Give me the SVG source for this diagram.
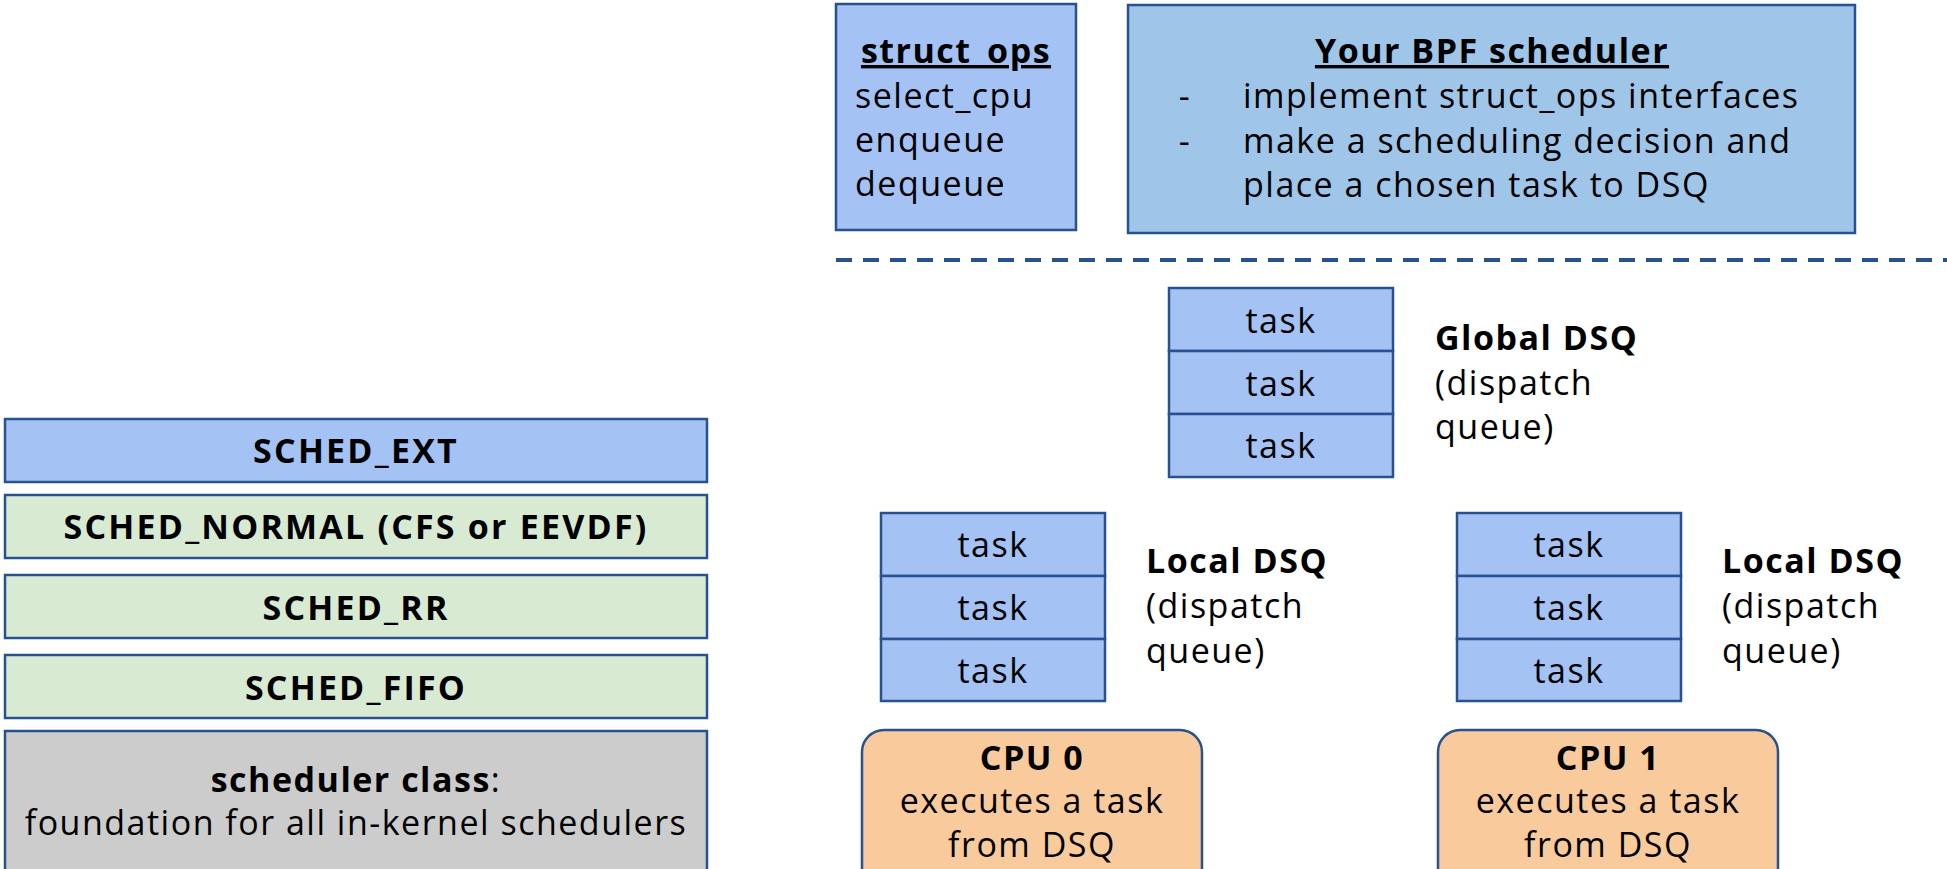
<svg xmlns="http://www.w3.org/2000/svg" width="1947" height="869" viewBox="0 0 1947 869">
  <style>
    .box { stroke: #27528f; stroke-width: 2.5; }
    .ext { fill: #a4c2f4; }
    .bpf { fill: #9fc5e8; }
    .cls { fill: #d9ead3; }
    .base { fill: #cccccc; }
    .cpu { fill: #f9cb9c; }
    text { font-family: "Open Sans", "Noto Sans", sans-serif; font-size: 34px; letter-spacing: 1.5px; fill: #000; }
    .b { font-weight: bold; }
    .cap { letter-spacing: 2.2px; }
    .c { text-anchor: middle; }
    .u { text-decoration: underline; }
  </style>

  <rect width="1947" height="869" fill="#ffffff"/>

  <!-- struct_ops callbacks -->
  <g id="struct-ops">
    <rect class="box ext" x="836" y="4" width="240" height="226"/>
    <text class="b c u" x="956" y="63">struct_ops</text>
    <text x="855" y="108">select_cpu</text>
    <text x="855" y="152">enqueue</text>
    <text x="855" y="196">dequeue</text>
  </g>

  <!-- user BPF scheduler -->
  <g id="bpf-scheduler">
    <rect class="box bpf" x="1128" y="5" width="727" height="228"/>
    <text class="b c u" x="1492" y="63">Your BPF scheduler</text>
    <text class="c" x="1185" y="108">-</text>
    <text class="c" x="1185" y="153">-</text>
    <text x="1243" y="108" letter-spacing="1.1">implement struct_ops interfaces</text>
    <text x="1243" y="153">make a scheduling decision and</text>
    <text x="1243" y="197">place a chosen task to DSQ</text>
  </g>

  <!-- user / kernel boundary -->
  <g id="connectors">
    <line x1="836" y1="260" x2="1947" y2="260" stroke="#27528f" stroke-width="4" stroke-dasharray="16 11"/>
  </g>

  <!-- scheduler class stack -->
  <g id="sched-ext">
    <rect class="box ext" x="5" y="419" width="702" height="63"/>
    <text class="b c cap" x="356" y="463">SCHED_EXT</text>
  </g>
  <g id="sched-normal">
    <rect class="box cls" x="5" y="495" width="702" height="63"/>
    <text class="b c cap" x="356" y="539">SCHED_NORMAL (CFS or EEVDF)</text>
  </g>
  <g id="sched-rr">
    <rect class="box cls" x="5" y="575" width="702" height="63"/>
    <text class="b c cap" x="356" y="620">SCHED_RR</text>
  </g>
  <g id="sched-fifo">
    <rect class="box cls" x="5" y="655" width="702" height="63"/>
    <text class="b c cap" x="356" y="700">SCHED_FIFO</text>
  </g>
  <g id="sched-class">
    <rect class="box base" x="5" y="731" width="702" height="160"/>
    <text class="c" x="356" y="792"><tspan class="b">scheduler class</tspan>:</text>
    <text class="c" x="356" y="835">foundation for all in-kernel schedulers</text>
  </g>

  <!-- global dispatch queue -->
  <g id="global-dsq">
    <rect class="box ext" x="1169" y="288" width="224" height="63"/>
    <rect class="box ext" x="1169" y="351" width="224" height="63"/>
    <rect class="box ext" x="1169" y="414" width="224" height="63"/>
    <text class="c" x="1281" y="333">task</text>
    <text class="c" x="1281" y="396">task</text>
    <text class="c" x="1281" y="458">task</text>
    <text class="b" x="1435" y="350">Global DSQ</text>
    <text x="1435" y="395">(dispatch</text>
    <text x="1435" y="439">queue)</text>
  </g>

  <!-- local dispatch queue, CPU 0 -->
  <g id="local-dsq-0">
    <rect class="box ext" x="881" y="513" width="224" height="63"/>
    <rect class="box ext" x="881" y="576" width="224" height="63"/>
    <rect class="box ext" x="881" y="639" width="224" height="62"/>
    <text class="c" x="993" y="557">task</text>
    <text class="c" x="993" y="620">task</text>
    <text class="c" x="993" y="683">task</text>
    <text class="b" x="1146" y="573">Local DSQ</text>
    <text x="1146" y="618">(dispatch</text>
    <text x="1146" y="663">queue)</text>
  </g>

  <!-- local dispatch queue, CPU 1 -->
  <g id="local-dsq-1">
    <rect class="box ext" x="1457" y="513" width="224" height="63"/>
    <rect class="box ext" x="1457" y="576" width="224" height="63"/>
    <rect class="box ext" x="1457" y="639" width="224" height="62"/>
    <text class="c" x="1569" y="557">task</text>
    <text class="c" x="1569" y="620">task</text>
    <text class="c" x="1569" y="683">task</text>
    <text class="b" x="1722" y="573">Local DSQ</text>
    <text x="1722" y="618">(dispatch</text>
    <text x="1722" y="663">queue)</text>
  </g>

  <!-- CPUs -->
  <g id="cpu-0">
    <rect class="box cpu" x="862" y="730" width="340" height="170" rx="22"/>
    <text class="b c" x="1032" y="770">CPU 0</text>
    <text class="c" x="1032" y="813">executes a task</text>
    <text class="c" x="1032" y="857">from DSQ</text>
  </g>
  <g id="cpu-1">
    <rect class="box cpu" x="1438" y="730" width="340" height="170" rx="22"/>
    <text class="b c" x="1608" y="770">CPU 1</text>
    <text class="c" x="1608" y="813">executes a task</text>
    <text class="c" x="1608" y="857">from DSQ</text>
  </g>
</svg>
